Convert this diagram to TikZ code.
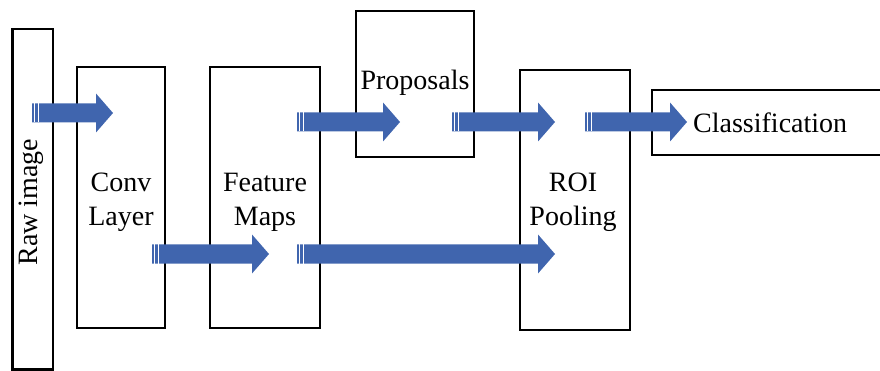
\documentclass[tikz,border=0pt]{standalone}
\usepackage{fontspec}
\setmainfont{Liberation Serif}
\usetikzlibrary{calc}
\definecolor{arrowblue}{RGB}{64,101,174}
\tikzset{
  box/.style={draw=black, line width=2.8pt},
  lbl/.style={inner sep=0pt, align=center, font=\fontsize{28}{34}\selectfont},
}
\newcommand\sarrow[2]{%
  \fill[arrowblue] let \p1=(#1), \p2=(#2) in
    (\x1,\y1+9.5pt) -- (\x2-17pt,\y1+9.5pt) -- (\x2-17pt,\y1+19.5pt) -- (\x2,\y1)
    -- (\x2-17pt,\y1-19.5pt) -- (\x2-17pt,\y1-9.5pt) -- (\x1,\y1-9.5pt) -- cycle;
  \draw[white, line width=0.8pt] let \p1=(#1) in
    (\x1+2.5pt,\y1+9.5pt) -- (\x1+2.5pt,\y1-9.5pt)
    (\x1+6pt,\y1+9.5pt) -- (\x1+6pt,\y1-9.5pt);
}
\begin{document}
\begin{tikzpicture}[x=1pt,y=-1pt]
\useasboundingbox (0,0) rectangle (880,371);
\clip (0,0) rectangle (880,371);
% boxes
\draw[box] (12.5,29) rectangle (53,369.5) coordinate (rawbox);
\draw[box] (77,67) rectangle (165,328);
\draw[box] (210,67) rectangle (320,328);
\draw[box] (356,11) rectangle (474,157);
\draw[box] (520,70) rectangle (630,330);
\draw[box] (652,90) rectangle (890,155);
% labels
\node[lbl, rotate=90] (raw) at (31,202) {Raw image};
\node[lbl] (conv) at (121,202) {Conv\\Layer};
\node[lbl] (feat) at (265,202) {Feature\\Maps};
\node[lbl, anchor=base] (prop) at (415,90) {Proposals};
\node[lbl] (roi) at (573,202) {ROI\\Pooling};
\node[lbl, anchor=base west] (cls) at (693,133) {Classification};
% arrow end points
\coordinate (a1s) at (32,113);  \coordinate (a1e) at (113,113);
\coordinate (a2s) at (152,254); \coordinate (a2e) at (269,254);
\coordinate (a3s) at (297,254); \coordinate (a3e) at (555,254);
\coordinate (a4s) at (297,122); \coordinate (a4e) at (400,122);
\coordinate (a5s) at (452,122); \coordinate (a5e) at (555,122);
\coordinate (a6s) at (585,122); \coordinate (a6e) at (687,122);
\sarrow{a1s}{a1e}
\sarrow{a2s}{a2e}
\sarrow{a3s}{a3e}
\sarrow{a4s}{a4e}
\sarrow{a5s}{a5e}
\sarrow{a6s}{a6e}
\end{tikzpicture}
\end{document}
